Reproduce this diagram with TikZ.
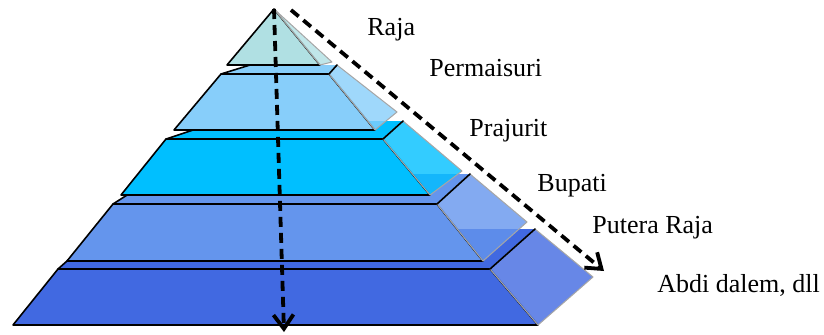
\documentclass[tikz,border=0pt]{standalone}
\usepackage{fontspec}
\setmainfont{Liberation Serif}
\usepackage{xcolor}
\usetikzlibrary{arrows.meta}
\definecolor{rajacol}{HTML}{B0E0E3}
\definecolor{permcol}{HTML}{87CEFA}
\definecolor{prajcol}{HTML}{00BFFF}
\definecolor{bupcol}{HTML}{6495ED}
\definecolor{abdicol}{HTML}{4169E1}

\begin{document}
\begin{tikzpicture}[x=0.5pt,y=-0.5pt,
  front/.style={draw=black,line width=0.8pt,line join=round},
  sideface/.style={fill opacity=0.8,draw=gray!70,line width=0.5pt,line join=round},
  edge/.style={black,line width=0.8pt,line cap=round},
  level/.style={font=\fontsize{13}{15}\selectfont,anchor=base west,inner sep=0pt},
  flow/.style={-{Straight Barb[length=7pt,width=10pt]},line width=1.9pt,
    dash pattern=on 5pt off 3pt}]
\useasboundingbox (0,0) rectangle (824,334);
% bottom layer
\fill[abdicol] (58,269) -- (103,229) -- (535,229) -- (490,269) -- cycle;
\draw[edge] (58,269) -- (103,229);
\draw[front,fill=abdicol] (58,269) -- (490,269) -- (538,325) -- (13,325) -- cycle;
\draw[sideface,fill=abdicol] (490,269) -- (535,229) -- (593,277) -- (538,325) -- cycle;
\draw[edge] (490,269) -- (535,229);
% fourth layer
\fill[bupcol] (113,204) -- (160,174) -- (470,174) -- (437,204) -- cycle;
\draw[edge] (113,204) -- (160,174);
\draw[front,fill=bupcol] (113,204) -- (437,204) -- (483,261) -- (67,261) -- cycle;
\draw[sideface,fill=bupcol] (437,204) -- (470,174) -- (527,222) -- (483,261) -- cycle;
\draw[edge] (437,204) -- (470,174);
% third layer
\fill[prajcol] (166,139) -- (220,121) -- (403,121) -- (383,139) -- cycle;
\draw[edge] (166,139) -- (220,121);
\draw[front,fill=prajcol] (166,139) -- (383,139) -- (430,195) -- (121,195) -- cycle;
\draw[sideface,fill=prajcol] (383,139) -- (403,121) -- (462,171) -- (430,195) -- cycle;
\draw[edge] (383,139) -- (403,121);
% second layer
\fill[permcol] (221,74) -- (250,65) -- (337,65) -- (329,74) -- cycle;
\draw[edge] (221,74) -- (250,65);
\draw[front,fill=permcol] (221,74) -- (329,74) -- (375,130) -- (174,130) -- cycle;
\draw[sideface,fill=permcol] (329,74) -- (337,65) -- (397,112) -- (375,130) -- cycle;
\draw[edge] (329,74) -- (337,65);
% top
\coordinate (apex) at (274,9);
\draw[front,fill=rajacol] (apex) -- (320,65) -- (227,65) -- cycle;
\draw[sideface,fill=rajacol] (apex) -- (332,62) -- (320,65) -- cycle;
% arrows
\coordinate (axisend) at (284,332);
\coordinate (slopestart) at (291,10);
\coordinate (slopeend) at (604,271);
\draw[flow] (apex) -- (axisend);
\draw[flow] (slopestart) -- (slopeend);
% labels
\node[level] (raja) at (367,35) {Raja};
\node[level] (permaisuri) at (429,76) {Permaisuri};
\node[level] (prajurit) at (469,136) {Prajurit};
\node[level] (bupati) at (537,191) {Bupati};
\node[level] (putera) at (592,233) {Putera Raja};
\node[level] (abdi) at (657,292) {Abdi dalem, dll};
\end{tikzpicture}
\end{document}
